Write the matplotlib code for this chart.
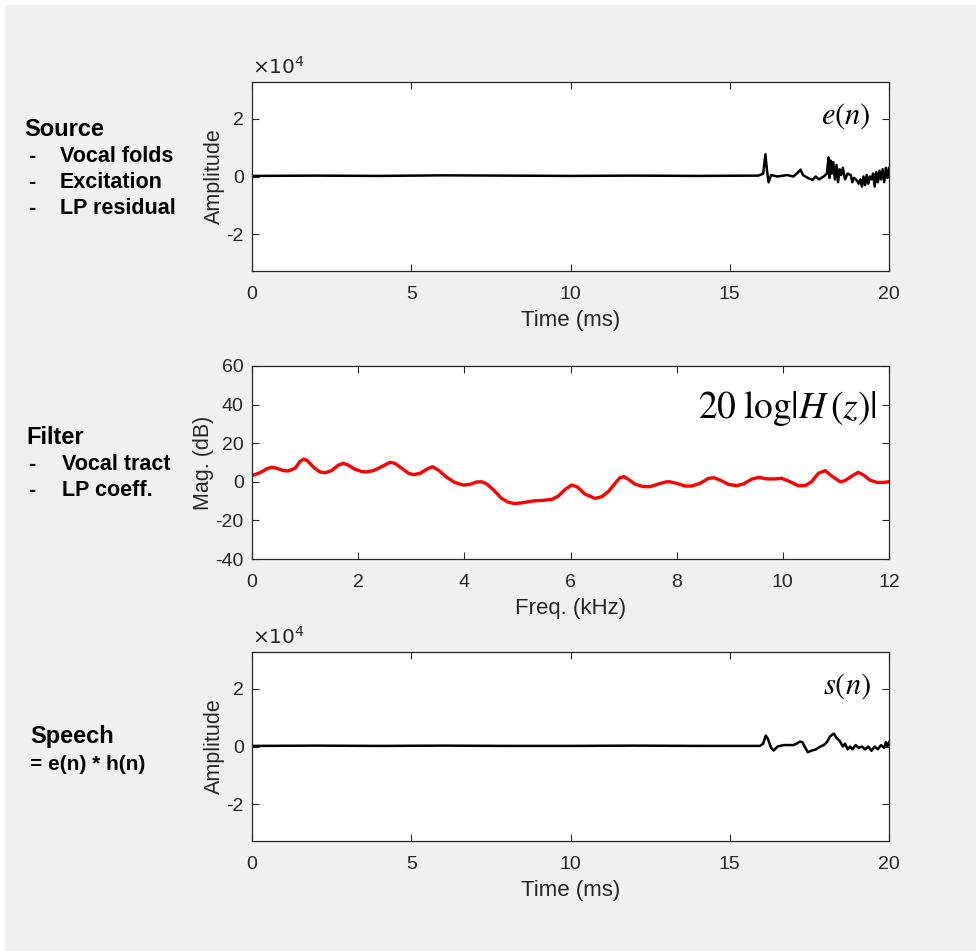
import matplotlib
matplotlib.use("Agg")
import matplotlib.pyplot as plt
from matplotlib.patches import Rectangle

plt.rcParams['font.family'] = ['Liberation Sans', 'DejaVu Sans']
plt.rcParams['axes.unicode_minus'] = False

# --- source signal e(n), time in ms, amplitude in units of 1e4 ---
e_t = [0.0, 2.0, 4.0, 6.0, 8.0, 10.0, 12.0, 14.0, 15.9, 16.05, 16.12, 16.17, 16.22,
       16.3, 16.5, 16.8, 17.0, 17.15, 17.22, 17.3, 17.45, 17.6, 17.7, 17.8, 17.95,
       18.05, 18.1, 18.13, 18.17, 18.2, 18.25, 18.3, 18.35, 18.4, 18.45, 18.5, 18.55,
       18.62, 18.7, 18.8, 18.85, 18.9, 19.0, 19.05, 19.1, 19.15, 19.2, 19.25, 19.3,
       19.35, 19.4, 19.45, 19.5, 19.55, 19.6, 19.65, 19.7, 19.75, 19.8, 19.85, 19.9,
       19.95, 20.0]
e_amp = [0.02, 0.03, 0.02, 0.04, 0.03, 0.02, 0.03, 0.02, 0.03, 0.1, 0.77, 0.2, -0.2,
         0.05, 0.0, 0.05, 0.0, 0.15, 0.24, 0.05, -0.05, -0.12, 0.0, -0.1, 0.0,
         0.1, 0.66, -0.05, 0.55, 0.1, 0.5, -0.1, 0.4, -0.2, 0.25, 0.05, 0.3,
         -0.1, 0.1, 0.05, -0.2, -0.05, -0.15, -0.25, -0.1, -0.35, 0.0, -0.3, 0.05,
         -0.25, 0.0, -0.1, 0.1, -0.35, 0.15, -0.2, 0.2, -0.1, 0.25, -0.2, 0.3,
         -0.05, 0.3]

# --- vocal tract filter response, freq in kHz, magnitude in dB ---
h_f = [0.0, 0.03, 0.15, 0.28, 0.37, 0.47, 0.59, 0.68, 0.81, 0.90, 0.97, 1.04, 1.16,
       1.28, 1.38, 1.50, 1.63, 1.72, 1.81, 1.94, 2.07, 2.16, 2.29, 2.44, 2.60, 2.69,
       2.82, 2.95, 3.04, 3.17, 3.29, 3.40, 3.51, 3.67, 3.82, 3.98, 4.11, 4.23, 4.33,
       4.42, 4.55, 4.70, 4.83, 4.95, 5.11, 5.30, 5.49, 5.65, 5.77, 5.90, 6.02, 6.12,
       6.27, 6.46, 6.59, 6.71, 6.84, 6.93, 7.01, 7.09, 7.22, 7.37, 7.50, 7.66, 7.81,
       7.87, 8.00, 8.16, 8.28, 8.44, 8.60, 8.70, 8.82, 8.97, 9.13, 9.26, 9.41, 9.54,
       9.70, 9.85, 9.98, 10.14, 10.29, 10.42, 10.54, 10.67, 10.80, 10.92, 11.08,
       11.17, 11.33, 11.42, 11.52, 11.64, 11.77, 11.89, 12.0]
h_db = [3.2, 3.5, 4.7, 6.8, 7.5, 7.0, 5.8, 5.6, 7.0, 10.4, 11.8, 11.0, 7.5,
        5.1, 4.7, 5.8, 8.7, 9.6, 8.7, 6.5, 5.3, 5.1, 5.8, 7.8, 10.1, 9.6,
        7.0, 4.4, 3.7, 4.4, 6.5, 7.8, 6.1, 2.3, -0.3, -1.7, -1.3, -0.1, 0.0,
        -1.1, -4.2, -8.6, -10.6, -11.3, -10.8, -9.9, -9.6, -9.1, -7.4, -3.9, -1.7, -2.5,
        -6.3, -8.6, -7.7, -5.1, -0.8, 2.1, 2.7, 1.3, -1.3, -2.5, -2.5, -1.1, 0.0,
        0.0, -0.8, -2.2, -2.2, -0.8, 1.8, 2.1, 0.9, -1.3, -2.0, -1.1, 1.3, 2.3,
        1.5, 1.5, 1.8, 0.0, -2.0, -2.0, 0.0, 4.4, 5.8, 3.0, 0.0,
        0.6, 3.5, 4.9, 3.5, 0.9, -0.3, -0.3, 0.0]

# --- speech signal s(n), time in ms, amplitude in units of 1e4 ---
s_t = [0.0, 2.0, 4.0, 6.0, 8.0, 10.0, 12.0, 14.0, 15.95, 16.05, 16.13, 16.18, 16.22,
       16.3, 16.38, 16.5, 16.7, 17.0, 17.1, 17.2, 17.28, 17.35, 17.45, 17.55, 17.7,
       17.85, 17.95, 18.05, 18.15, 18.27, 18.35, 18.45, 18.55, 18.62, 18.7, 18.78,
       18.85, 18.95, 19.05, 19.15, 19.25, 19.35, 19.45, 19.55, 19.65, 19.75, 19.85,
       19.9, 19.95, 20.0]
s_amp = [0.02, 0.03, 0.02, 0.03, 0.02, 0.02, 0.03, 0.02, 0.02, 0.1, 0.38, 0.3, 0.2,
         -0.05, -0.14, 0.0, 0.05, 0.05, 0.1, 0.17, 0.15, 0.0, -0.2, -0.15, -0.1,
         0.0, 0.05, 0.15, 0.35, 0.45, 0.3, 0.2, 0.0, 0.1, -0.1, 0.0,
         -0.1, 0.05, -0.05, 0.0, -0.1, 0.0, -0.15, 0.0, -0.1, 0.05, -0.05,
         0.15, 0.0, 0.15]

amp_ticks = [-2, 0, 2]
time_ticks = [0, 5, 10, 15, 20]
freq_ticks = [0, 2, 4, 6, 8, 10, 12]
db_ticks = [-40, -20, 0, 20, 40, 60]

W, H = 976, 951
AX_COL = '#262626'
BG = '#f0f0f0'

fig = plt.figure(figsize=(W / 100, H / 100), dpi=100, facecolor='white')
fig.patches.append(Rectangle((5 / W, 0), 1, 1 - 5 / H, transform=fig.transFigure,
                             facecolor=BG, edgecolor='none', zorder=-10))


def px_axes(top, bottom, left=252, right=889):
    return fig.add_axes([left / W, 1 - bottom / H, (right - left) / W, (bottom - top) / H])


def style(ax):
    ax.set_facecolor('white')
    for sp in ax.spines.values():
        sp.set_color(AX_COL)
        sp.set_linewidth(0.9)
    ax.tick_params(direction='in', top=True, right=True, length=5, width=0.8,
                   color=AX_COL, labelcolor=AX_COL, labelsize=14)
    ax.tick_params(axis='x', pad=11)
    ax.tick_params(axis='y', pad=6)


ax1 = px_axes(82, 271)
ax2 = px_axes(366, 559)
ax3 = px_axes(652, 841)

for ax, t, a, lab in [(ax1, e_t, e_amp, r'$e(n)$'), (ax3, s_t, s_amp, r'$s(n)$')]:
    style(ax)
    ax.plot(t, a, color='black', linewidth=1.8)
    ax.set_xlim(0, 20)
    ax.set_ylim(-3.2768, 3.2768)
    ax.set_xticks(time_ticks)
    ax.set_yticks(amp_ticks)
    ax.set_xlabel('Time (ms)', fontsize=16, color=AX_COL, labelpad=5)
    ax.set_ylabel('Amplitude', fontsize=15.5, color=AX_COL, labelpad=1)
    ax.text(0.0, 1.02, r'$\times10^4$', transform=ax.transAxes, fontsize=14.5,
            color=AX_COL, math_fontfamily='dejavusans', ha='left', va='bottom')
    ax.text(0.972, 0.82, lab, transform=ax.transAxes, fontsize=22,
            math_fontfamily='stix', ha='right', va='center')

style(ax2)
ax2.plot(h_f, h_db, color='red', linewidth=2.4, solid_joinstyle='round')
ax2.set_xlim(0, 12)
ax2.set_ylim(-40, 60)
ax2.set_xticks(freq_ticks)
ax2.set_yticks(db_ticks)
ax2.set_xlabel('Freq. (kHz)', fontsize=16, color=AX_COL, labelpad=5)
ax2.set_ylabel('Mag. (dB)', fontsize=15.5, color=AX_COL, labelpad=1)
ax2.text(0.981, 0.78, r'$20\;\log|H\,(z)|$', transform=ax2.transAxes, fontsize=27,
         math_fontfamily='stix', ha='right', va='center')

# left-hand descriptions
def ftext(x, y, s, size=15.5):
    fig.text(x / W, 1 - y / H, s, fontsize=size, fontweight='bold', ha='left', va='center')

ftext(24, 130, 'Source', 17)
for y, s in [(157, 'Vocal folds'), (183, 'Excitation'), (209, 'LP residual')]:
    ftext(28, y, '-')
    ftext(60, y, s)

ftext(26, 437, 'Filter', 17)
for y, s in [(464, 'Vocal tract'), (490, 'LP coeff.')]:
    ftext(28, y, '-')
    ftext(62, y, s)

ftext(30, 736, 'Speech', 17)
ftext(30, 765, '= e(n) * h(n)', 15)

fig.savefig('out.png', dpi=100, facecolor=fig.get_facecolor())
